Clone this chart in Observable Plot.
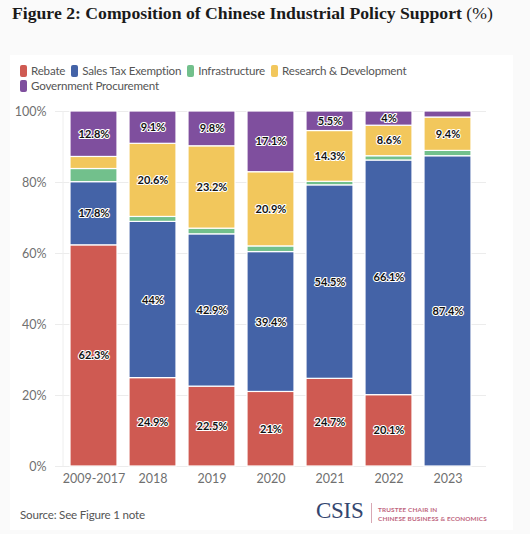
<!DOCTYPE html>
<html>
<head>
<meta charset="utf-8">
<script src="https://cdn.jsdelivr.net/npm/d3@7"></script>
<script src="https://cdn.jsdelivr.net/npm/@observablehq/plot@0.6"></script>
<style>
  html, body { margin: 0; padding: 0; }
  body { width: 530px; height: 534px; background: #fafafa; position: relative; overflow: hidden; font-family: Lato, "Noto Sans", sans-serif; }
  #title { position: absolute; left: 12px; top: 3px; font-family: "Liberation Serif", serif; font-weight: bold; font-size: 19px; color: #1a1a1a; white-space: nowrap; }
  #title span { font-weight: normal; }
  #panel { position: absolute; left: 10px; top: 55px; width: 503px; height: 475px; background: #fff; }
  #legend { position: absolute; left: 20px; top: 63px; width: 440px; font-size: 11.6px; letter-spacing: -0.2px; color: #555; line-height: 15px; }
  .item { display: inline-block; margin-right: 6px; white-space: nowrap; }
  .sw { display: inline-block; width: 7px; height: 12px; border-radius: 2px; vertical-align: -2px; margin-right: 4px; }
  #chart { position: absolute; left: 0; top: 100px; }
  #source { position: absolute; left: 20px; top: 508px; font-size: 11.6px; letter-spacing: -0.2px; color: #555; }
  #logo { position: absolute; left: 316px; top: 498px; }
  #csis { position: absolute; left: 0; top: 0; font-family: "Liberation Serif", serif; font-size: 23px; color: #34466f; letter-spacing: -0.3px; }
  #bar { position: absolute; left: 55px; top: 5px; width: 1px; height: 20px; background: #d8a8b4; }
  #trustee { position: absolute; left: 62px; top: 7px; font-size: 6.4px; font-weight: bold; color: #c0667e; line-height: 9px; letter-spacing: 0.15px; white-space: nowrap; }
</style>
</head>
<body>
<div id="title">Figure 2: Composition of Chinese Industrial Policy Support <span>(%)</span></div>
<div id="panel"></div>
<div id="legend"></div>
<div id="chart"></div>
<div id="source">Source: See Figure 1 note</div>
<div id="logo"><div id="csis">CSIS</div><div id="bar"></div><div id="trustee">TRUSTEE CHAIR IN<br>CHINESE BUSINESS &amp; ECONOMICS</div></div>
<script>
const periods = ["2009-2017", "2018", "2019", "2020", "2021", "2022", "2023"];
const categories = ["Rebate", "Sales Tax Exemption", "Infrastructure", "Research & Development", "Government Procurement"];
const colors = ["#cf5a52", "#4463a7", "#72c08c", "#f2c75c", "#7f4f9e"];
const rebate = [62.3, 24.9, 22.5, 21, 24.7, 20.1, 0];
const salesTax = [17.8, 44, 42.9, 39.4, 54.5, 66.1, 87.4];
const infrastructure = [3.7, 1.4, 1.6, 1.6, 1.0, 1.2, 1.5];
const researchDev = [3.4, 20.6, 23.2, 20.9, 14.3, 8.6, 9.4];
const govProcurement = [12.8, 9.1, 9.8, 17.1, 5.5, 4, 1.7];
const yTicks = [0, 20, 40, 60, 80, 100];

const series = [rebate, salesTax, infrastructure, researchDev, govProcurement];
const data = [];
periods.forEach((p, i) => {
  categories.forEach((c, k) => {
    data.push({period: p, category: c, value: series[k][i]});
  });
});
const labelOf = d => (d.category === "Infrastructure" || d.value < 4) ? "" : `${d.value}%`;

// fit title width to reference (about 481px)
const title = document.getElementById("title");
const w = title.getBoundingClientRect().width;
title.style.fontSize = (19 * 481 / w) + "px";

// legend
const legend = document.getElementById("legend");
categories.forEach((c, k) => {
  const it = document.createElement("span");
  it.className = "item";
  it.innerHTML = `<span class="sw" style="background:${colors[k]}"></span>${c.replace("&", "&amp;")}`;
  legend.appendChild(it);
});

const chart = Plot.plot({
  width: 530,
  height: 390,
  marginTop: 11,
  marginBottom: 24,
  marginLeft: 55,
  marginRight: 44,
  style: {fontFamily: "Lato, 'Noto Sans', sans-serif", fontSize: "12.5px", color: "#707070", background: "transparent", overflow: "visible"},
  x: {domain: periods, padding: 0.2, label: null, tickSize: 0, tickPadding: 8},
  y: {domain: [0, 100], ticks: yTicks, tickFormat: d => d + "%", label: null, tickSize: 0, tickPadding: 9},
  color: {domain: categories, range: colors},
  marks: [
    Plot.ruleY(yTicks, {stroke: "#ececec"}),
    Plot.ruleX([periods[0]], {stroke: "#eeeeee", dx: -31}),
    Plot.barY(data, Plot.stackY({x: "period", y: "value", fill: "category", order: null, stroke: "white", strokeWidth: 1.2})),
    Plot.text(data, Plot.stackY({x: "period", y: "value", z: "category", order: null, text: labelOf, fill: "#111", stroke: "white", strokeWidth: 2.2, fontWeight: 700, fontSize: 11}))
  ]
});
document.getElementById("chart").appendChild(chart);
</script>
</body>
</html>
